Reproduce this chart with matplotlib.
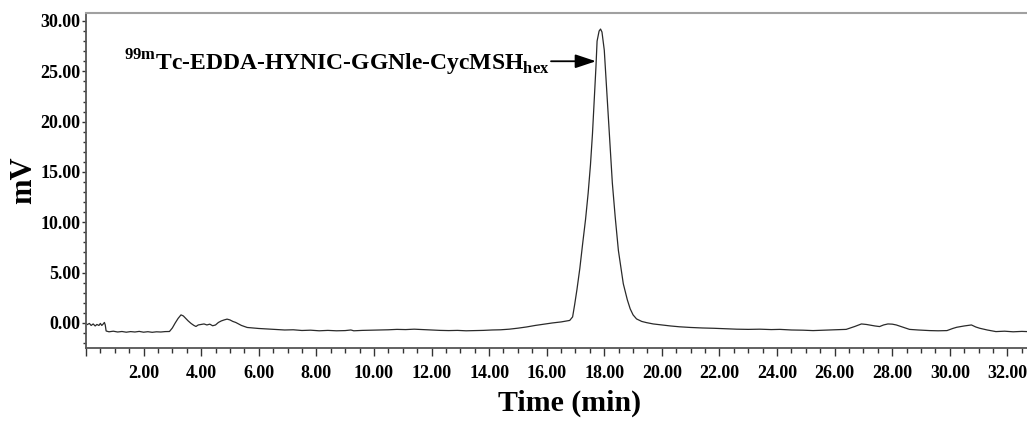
#!/usr/bin/env python3
"""Radio-HPLC trace of 99mTc-EDDA-HYNIC-GGNle-CycMSHhex."""

from __future__ import annotations

import matplotlib

matplotlib.use("Agg")
import matplotlib.pyplot as plt
from matplotlib.ticker import FormatStrFormatter, FuncFormatter, MultipleLocator


# retention time (min) and detector signal (mV)
time_min = [
    0.05, 0.12, 0.18, 0.25, 0.32, 0.38, 0.45, 0.50, 0.55, 0.60, 0.64, 0.67,
    0.70, 0.80, 0.95, 1.10, 1.25, 1.40, 1.55, 1.70, 1.85, 2.00, 2.15, 2.30,
    2.45, 2.60, 2.75, 2.90, 3.00, 3.10, 3.20, 3.30, 3.38, 3.45, 3.55, 3.65,
    3.75, 3.82, 3.90, 4.00, 4.10, 4.20, 4.30, 4.40, 4.50, 4.60, 4.70, 4.80,
    4.90, 5.00, 5.10, 5.20, 5.30, 5.40, 5.50, 5.60, 5.80, 6.00, 6.30, 6.60,
    6.90, 7.20, 7.50, 7.80, 8.10, 8.40, 8.70, 9.00, 9.20, 9.30, 9.60, 9.90,
    10.20, 10.50, 10.80, 11.10, 11.40, 11.70, 12.00, 12.30, 12.60, 12.90,
    13.20, 13.50, 13.80, 14.10, 14.40, 14.70, 15.00, 15.30, 15.60, 15.90,
    16.20, 16.50, 16.80, 16.90, 16.97, 17.05, 17.15, 17.25, 17.35, 17.44,
    17.52, 17.59, 17.65, 17.71, 17.75, 17.82, 17.87, 17.92, 18.00, 18.07,
    18.14, 18.21, 18.28, 18.38, 18.49, 18.66, 18.80, 18.90, 19.00, 19.12,
    19.30, 19.47, 19.70, 20.00, 20.30, 20.60, 21.00, 21.40, 21.80, 22.20,
    22.60, 23.00, 23.40, 23.80, 24.10, 24.50, 24.90, 25.25, 25.60, 26.00,
    26.40, 26.70, 26.93, 27.10, 27.20, 27.40, 27.56, 27.70, 27.85, 28.00,
    28.14, 28.35, 28.60, 28.90, 29.30, 29.60, 29.90, 30.10, 30.24, 30.50,
    30.75, 30.90, 31.04, 31.30, 31.60, 31.90, 32.20, 32.50, 32.70,
]
signal_mv = [
    -0.15, -0.05, -0.25, -0.10, -0.30, -0.15, -0.25, -0.05, -0.25, -0.10, 0.05, -0.20,
    -0.80, -0.88, -0.82, -0.90, -0.85, -0.92, -0.86, -0.90, -0.84, -0.92, -0.87, -0.93,
    -0.88, -0.90, -0.86, -0.85, -0.50, 0.00, 0.45, 0.80, 0.70, 0.50, 0.20, -0.05,
    -0.25, -0.35, -0.20, -0.15, -0.10, -0.20, -0.12, -0.28, -0.20, 0.05, 0.20, 0.30,
    0.38, 0.30, 0.15, 0.05, -0.10, -0.25, -0.35, -0.45, -0.50, -0.55, -0.60, -0.65,
    -0.70, -0.68, -0.75, -0.72, -0.78, -0.74, -0.78, -0.76, -0.70, -0.78, -0.74, -0.72,
    -0.70, -0.68, -0.64, -0.66, -0.62, -0.66, -0.70, -0.74, -0.76, -0.74,
    -0.78, -0.76, -0.74, -0.70, -0.68, -0.62, -0.52, -0.40, -0.25, -0.12,
    0.00, 0.10, 0.25, 0.60, 1.80, 3.30, 5.40, 7.90, 10.30, 12.90,
    15.70, 18.80, 22.10, 25.40, 28.00, 29.00, 29.20, 28.90, 27.10, 23.80,
    20.40, 17.10, 13.90, 10.50, 7.20, 3.90, 2.30, 1.40, 0.80, 0.40,
    0.15, 0.03, -0.10, -0.20, -0.30, -0.38, -0.45, -0.50, -0.53, -0.58,
    -0.62, -0.64, -0.62, -0.66, -0.64, -0.70, -0.72, -0.76, -0.72, -0.68,
    -0.64, -0.35, -0.10, -0.15, -0.20, -0.30, -0.36, -0.20, -0.10, -0.12,
    -0.20, -0.40, -0.64, -0.70, -0.76, -0.78, -0.76, -0.55, -0.43, -0.30,
    -0.20, -0.40, -0.53, -0.70, -0.86, -0.82, -0.88, -0.84, -0.86,
]

peak_label = r"$^{\mathbf{99m}}$Tc-EDDA-HYNIC-GGNle-CycMSH$_{\mathbf{hex}}$"
peak_arrow_tip = (17.71, 26.0)
peak_arrow_tail = (16.15, 26.0)

SERIF = "Liberation Serif"


def time_label(value, _pos):
    # the 0.00 position sits on the y spine and carries no label
    return "" if abs(value) < 1e-9 else f"{value:.2f}"


def main() -> None:
    plt.rcParams["font.family"] = [SERIF, "DejaVu Serif"]
    plt.rcParams["font.weight"] = "bold"
    plt.rcParams["mathtext.fontset"] = "custom"
    plt.rcParams["mathtext.rm"] = f"{SERIF}:bold"
    plt.rcParams["mathtext.bf"] = f"{SERIF}:bold"

    fig = plt.figure(figsize=(10.27, 4.24), dpi=100)
    ax = fig.add_axes([0.0837, 0.179, 0.9163, 0.790])

    ax.plot(time_min, signal_mv, color="#2a2a2a", lw=0.9)

    ax.set_xlim(0, 32.68)
    ax.set_ylim(-2.5, 30.78)

    ax.xaxis.set_major_locator(MultipleLocator(2))
    ax.xaxis.set_minor_locator(MultipleLocator(0.5))
    ax.yaxis.set_major_locator(MultipleLocator(5))
    ax.yaxis.set_minor_locator(MultipleLocator(1))
    ax.xaxis.set_major_formatter(FuncFormatter(time_label))
    ax.yaxis.set_major_formatter(FormatStrFormatter("%.2f"))

    ax.tick_params(axis="x", which="major", length=6, width=1.0, pad=6,
                   labelsize=13, colors="#333333", labelcolor="black")
    ax.tick_params(axis="x", which="minor", length=3.5, width=1.0, colors="#333333")
    ax.tick_params(axis="y", which="major", length=3, width=1.0, pad=1,
                   labelsize=13, colors="#333333", labelcolor="black")
    ax.tick_params(axis="y", which="minor", length=2.5, width=1.0, colors="#333333")

    ax.spines["right"].set_visible(False)
    ax.spines["top"].set_color("#a0a0a0")
    ax.spines["top"].set_linewidth(1.5)
    for side in ("left", "bottom"):
        ax.spines[side].set_color("#555555")
        ax.spines[side].set_linewidth(1.3)

    ax.set_xlabel("Time (min)", fontsize=21.5, fontweight="bold")
    ax.xaxis.set_label_coords(0.514, -0.125)
    ax.set_ylabel("mV", fontsize=22, fontweight="bold", labelpad=1.5)

    ax.annotate(
        "",
        xy=peak_arrow_tip,
        xytext=peak_arrow_tail,
        arrowprops=dict(arrowstyle="-|>,head_length=0.9,head_width=0.3",
                        color="black", lw=1.3, shrinkA=0, shrinkB=0,
                        mutation_scale=14),
    )
    ax.text(peak_arrow_tail[0] - 0.05, 25.05, peak_label, ha="right",
            va="baseline", fontsize=17, fontweight="bold")

    fig.savefig("out.png", dpi=100)
    plt.close(fig)


if __name__ == "__main__":
    main()
